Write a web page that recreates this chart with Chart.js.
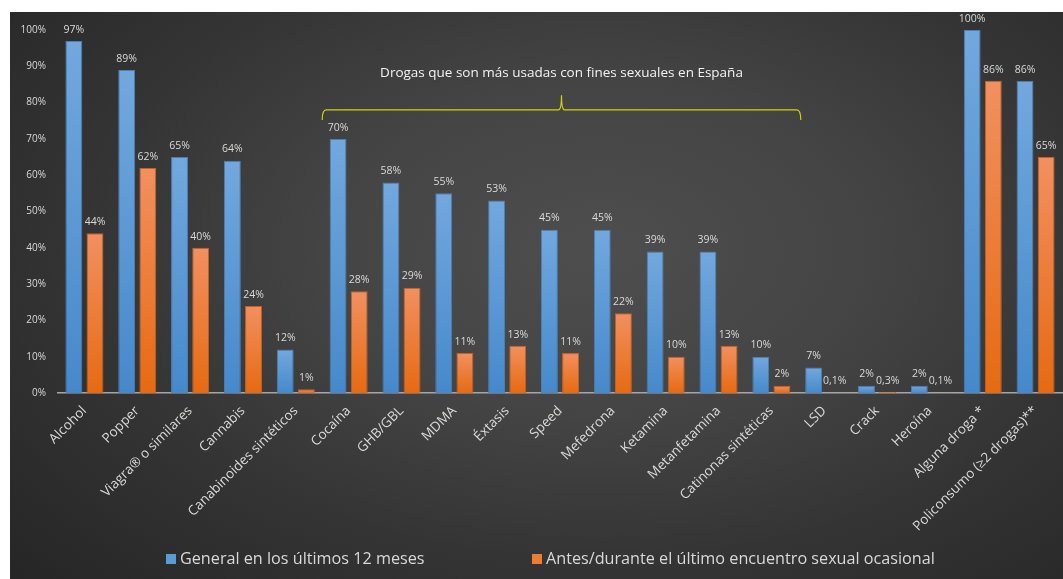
<!DOCTYPE html>
<html>
<head>
<meta charset="utf-8">
<script src="https://cdn.jsdelivr.net/npm/chart.js@4.4.1/dist/chart.umd.min.js"></script>
<style>
  body { margin: 0; background: #fff; width: 1063px; height: 579px; overflow: hidden; font-family: 'Open Sans', sans-serif; }
  #panel {
    position: absolute; left: 10px; top: 12px; width: 1053px; height: 567px;
    background: radial-gradient(ellipse 75% 85% at 56% 42%, #4e4e4e 0%, #444 35%, #343434 65%, #262626 100%);
  }
  #chart { position: absolute; left: 0; top: 0; }
  .leg { position: absolute; top: 535px; color: #d9d9d9; font-size: 16.2px; white-space: nowrap; }
  .leg i { display: inline-block; width: 10px; height: 10px; margin-right: 4px; vertical-align: 0px; }
</style>
</head>
<body>
<div id="panel">
  <canvas id="chart" width="1053" height="567"></canvas>
  <div id="legend"></div>
</div>
<script>
const categories = ['Alcohol', 'Popper', 'Viagra® o similares', 'Cannabis', 'Canabinoides sintéticos',
  'Cocaína', 'GHB/GBL', 'MDMA', 'Éxtasis', 'Speed', 'Mefedrona', 'Ketamina', 'Metanfetamina',
  'Catinonas sintéticas', 'LSD', 'Crack', 'Heroína', 'Alguna droga *', 'Policonsumo (≥2 drogas)**'];
const generalValues = [97, 89, 65, 64, 12, 70, 58, 55, 53, 45, 45, 39, 39, 10, 7, 2, 2, 100, 86];
const ocasionalValues = [44, 62, 40, 24, 1, 28, 29, 11, 13, 11, 22, 10, 13, 2, 0.1, 0.3, 0.1, 86, 65];
const seriesNames = ['General en los últimos 12 meses', 'Antes/durante el último encuentro sexual ocasional'];
const yTickLabels = ['0%', '10%', '20%', '30%', '40%', '50%', '60%', '70%', '80%', '90%', '100%'];
const bracketText = 'Drogas que son más usadas con fines sexuales en España';
const bracketFrom = 'Cocaína';
const bracketTo = 'Catinonas sintéticas';

function fmt(v) {
  return v < 1 ? String(v).replace('.', ',') + '%' : Math.round(v) + '%';
}

// per-bar vertical gradient, lighter at the top
function barGradient(top, bottom) {
  return function(context) {
    const chart = context.chart;
    if (!chart.chartArea || context.parsed == null) return bottom;
    const yScale = chart.scales.y;
    const y0 = yScale.getPixelForValue(context.parsed.y);
    const y1 = yScale.getPixelForValue(0);
    const g = chart.ctx.createLinearGradient(0, y0, 0, Math.max(y1, y0 + 1));
    g.addColorStop(0, top);
    g.addColorStop(1, bottom);
    return g;
  };
}

const valueLabels = {
  id: 'valueLabels',
  afterDatasetsDraw(chart) {
    const ctx = chart.ctx;
    ctx.save();
    ctx.font = '10.5px "Open Sans"';
    ctx.fillStyle = '#d9d9d9';
    ctx.textAlign = 'center';
    ctx.textBaseline = 'bottom';
    chart.data.datasets.forEach((ds, i) => {
      chart.getDatasetMeta(i).data.forEach((bar, j) => {
        ctx.fillText(fmt(ds.data[j]), bar.x, bar.y - 6);
      });
    });
    ctx.restore();
  }
};

const bracket = {
  id: 'bracket',
  afterDatasetsDraw(chart) {
    const ctx = chart.ctx;
    const x = chart.scales.x, y = chart.scales.y;
    const half = (x.getPixelForValue(1) - x.getPixelForValue(0)) / 2;
    const x0 = x.getPixelForValue(categories.indexOf(bracketFrom)) - half;
    const x1 = x.getPixelForValue(categories.indexOf(bracketTo)) + half + 3;
    const xm = (x0 + x1) / 2;
    const yLine = y.getPixelForValue(78);
    const yEnd = y.getPixelForValue(75.2);
    const yPeak = y.getPixelForValue(82);
    ctx.save();
    ctx.strokeStyle = '#d2d20a';
    ctx.lineWidth = 1.2;
    ctx.beginPath();
    ctx.moveTo(x0, yEnd);
    ctx.quadraticCurveTo(x0, yLine, x0 + 4, yLine);
    ctx.lineTo(xm - 3, yLine);
    ctx.quadraticCurveTo(xm, yLine, xm, yPeak);
    ctx.moveTo(xm, yPeak);
    ctx.quadraticCurveTo(xm, yLine, xm + 3, yLine);
    ctx.lineTo(x1 - 4, yLine);
    ctx.quadraticCurveTo(x1, yLine, x1, yEnd);
    ctx.stroke();
    ctx.font = '13.5px "Open Sans"';
    ctx.fillStyle = '#f2f2f2';
    ctx.textAlign = 'center';
    ctx.textBaseline = 'middle';
    ctx.fillText(bracketText, xm, y.getPixelForValue(88.2));
    ctx.restore();
  }
};

const colors = [
  { top: '#72a8de', bottom: '#4689cb', border: '#4a7fb8', key: '#5b9bd5' },
  { top: '#f29060', bottom: '#e66a12', border: '#c8601e', key: '#ed7d31' }
];

const chart = new Chart(document.getElementById('chart'), {
  type: 'bar',
  data: {
    labels: categories,
    datasets: [generalValues, ocasionalValues].map((vals, i) => ({
      label: seriesNames[i],
      data: vals,
      backgroundColor: barGradient(colors[i].top, colors[i].bottom),
      borderColor: colors[i].border,
      borderWidth: 1,
      barPercentage: 0.8,
      categoryPercentage: 0.8
    }))
  },
  options: {
    responsive: false,
    animation: false,
    layout: { padding: { top: 14, right: 1, bottom: 36, left: 0 } },
    plugins: {
      legend: { display: false },
      tooltip: { enabled: false }
    },
    scales: {
      y: {
        min: 0,
        max: 100,
        afterFit(scale) { scale.width = 48; },
        grid: { display: false, drawTicks: false },
        border: { display: false },
        ticks: {
          stepSize: 10,
          padding: 12,
          color: '#d9d9d9',
          font: { family: 'Open Sans', size: 10 },
          callback: (v) => yTickLabels[Math.round(v / 10)]
        }
      },
      x: {
        afterFit(scale) { scale.height = 150; },
        grid: { display: false, drawTicks: false },
        border: { display: true, color: '#a6a6a6', width: 1.5 },
        ticks: {
          autoSkip: false,
          maxRotation: 45,
          minRotation: 45,
          padding: 10,
          color: '#d9d9d9',
          font: { family: 'Open Sans', size: 13.5 }
        }
      }
    }
  },
  plugins: [valueLabels, bracket]
});

// legend built from the datasets
const legend = document.getElementById('legend');
const legendLeft = [156, 522];
chart.data.datasets.forEach((ds, i) => {
  const el = document.createElement('div');
  el.className = 'leg';
  el.style.left = legendLeft[i] + 'px';
  el.innerHTML = '<i style="background:' + colors[i].key + '"></i>' + ds.label;
  legend.appendChild(el);
});
</script>
</body>
</html>
